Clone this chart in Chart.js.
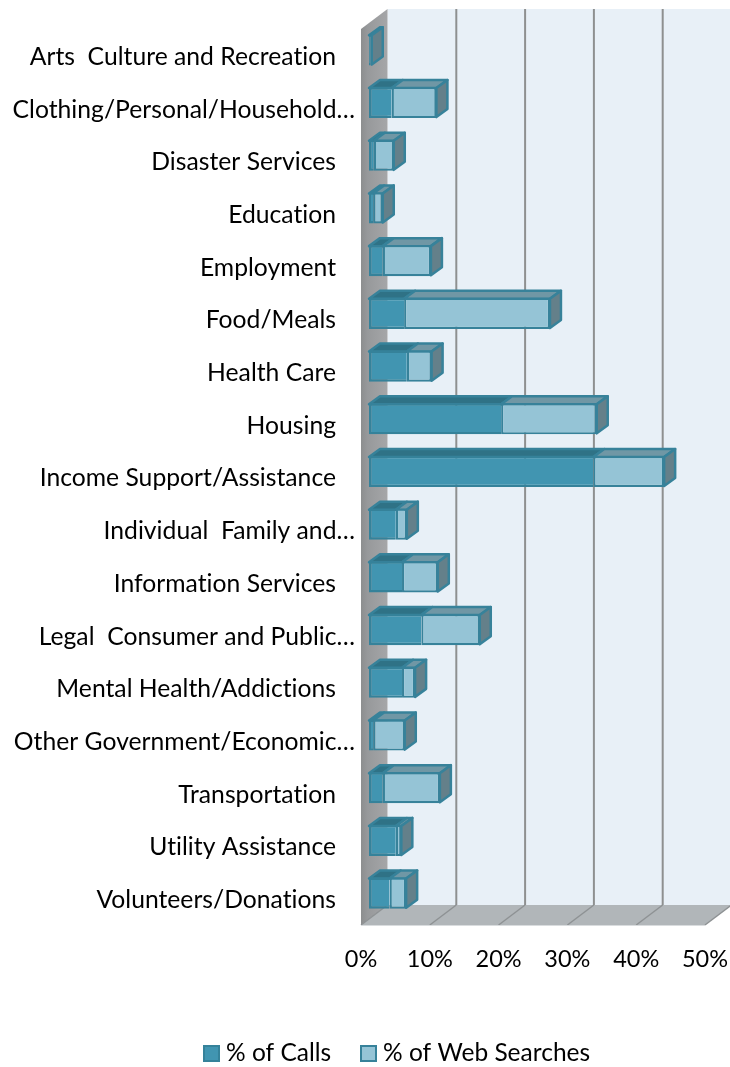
<!DOCTYPE html>
<html>
<head>
<meta charset="utf-8">
<style>html,body{margin:0;padding:0;background:#fff}canvas{display:block}</style>
<script src="https://cdn.jsdelivr.net/npm/chart.js@4"></script>
</head>
<body>
<canvas id="c" width="730" height="1067"></canvas>
<script>
const categories = ["Arts  Culture and Recreation","Clothing/Personal/Household…","Disaster Services","Education","Employment","Food/Meals","Health Care","Housing","Income Support/Assistance","Individual  Family and…","Information Services","Legal  Consumer and Public…","Mental Health/Addictions","Other Government/Economic…","Transportation","Utility Assistance","Volunteers/Donations"];
const callsValues = [0.2,3.3,0.7,0.6,2.0,5.1,5.5,19.2,32.6,3.9,4.8,7.6,4.8,0.6,2.0,3.9,3.0];
const webValues = [0.2,6.5,2.9,1.4,7.0,21.2,3.6,13.9,10.3,1.6,5.2,8.5,1.9,4.6,8.3,0.8,2.4];
const xTicks = [0,10,20,30,40,50];
const FONT = 'Lato';

const wall = {dx:26.5, dy:-20};
const barShift = {dx:8, dy:-5.5};
const depth = {dx:11, dy:-8};
const faces = [
  {top:'#2f7286', side:'#2f7286'},
  {top:'#7097a5', side:'#64808a'}
];
const edge = '#37829a';
const legendLayout = [{box:204,text:226},{box:361,text:383}];

function poly(ctx, pts, fill, stroke, lw){
  ctx.beginPath();
  pts.forEach((p,i)=> i?ctx.lineTo(p[0],p[1]):ctx.moveTo(p[0],p[1]));
  ctx.closePath();
  if(fill){ctx.fillStyle=fill;ctx.fill();}
  if(stroke){ctx.strokeStyle=stroke;ctx.lineWidth=lw||1;ctx.lineJoin='round';ctx.stroke();}
}

const box3d = {
  id:'box3d',
  beforeDraw(chart){ chart.ctx.letterSpacing='0.01px'; },
  beforeDatasetsDraw(chart){
    const {ctx, chartArea:a, scales:{x}} = chart;
    ctx.save();
    const l=a.left,r=a.right,t=a.top,b=a.bottom,dx=wall.dx,dy=wall.dy;
    poly(ctx,[[l+dx,t+dy],[730,t+dy],[730,b+dy],[l+dx,b+dy]],'#e8f0f7');
    const g=ctx.createLinearGradient(l,0,l+dx,0);
    g.addColorStop(0,'#8c8e8f');g.addColorStop(0.25,'#97999b');g.addColorStop(1,'#a5a6a8');
    poly(ctx,[[l,t],[l+dx,t+dy],[l+dx,b+dy],[l,b]],g);
    poly(ctx,[[l,b],[r,b],[r+dx,b+dy],[l+dx,b+dy]],'#b1b6b9');
    xTicks.forEach(v=>{
      const px=x.getPixelForValue(v);
      if(v>0 && v<50){
        ctx.strokeStyle='#8e9090';ctx.lineWidth=2;
        ctx.beginPath();ctx.moveTo(px+dx,t+dy);ctx.lineTo(px+dx,b+dy);ctx.stroke();
      }
      ctx.strokeStyle='#8e9294';ctx.lineWidth=1.5;
      ctx.beginPath();ctx.moveTo(px,b);ctx.lineTo(px+dx,b+dy);ctx.stroke();
    });
    ctx.strokeStyle='#d9dcde';ctx.lineWidth=1;
    ctx.beginPath();ctx.moveTo(l,b+0.5);ctx.lineTo(r,b+0.5);ctx.stroke();
    ctx.restore();

    ctx.save();
    ctx.translate(barShift.dx,barShift.dy);
    chart.data.datasets.forEach((ds,di)=>{
      chart.getDatasetMeta(di).data.forEach(bar=>{
        const p=bar.getProps(['x','y','base','height'],true);
        const tY=p.y-p.height/2+1, bY=p.y+p.height/2-1;
        const x0=p.base, x1=p.x;
        poly(ctx,[[x0,tY],[x0+depth.dx,tY+depth.dy],[x1+depth.dx,tY+depth.dy],[x1,tY]],faces[di].top,edge,2.5);
        if(di===1){
          poly(ctx,[[x1,tY],[x1+depth.dx,tY+depth.dy],[x1+depth.dx,bY+depth.dy],[x1,bY]],faces[di].side,edge,2.5);
        }
      });
    });
  },
  afterDatasetsDraw(chart){ chart.ctx.restore(); },
  afterDraw(chart){
    const ctx=chart.ctx;
    ctx.save();
    ctx.font='24.5px '+FONT;
    ctx.textBaseline='middle';
    ctx.textAlign='left';
    chart.data.datasets.forEach((ds,i)=>{
      const L=legendLayout[i];
      ctx.fillStyle=ds.backgroundColor;
      ctx.strokeStyle=ds.borderColor;
      ctx.lineWidth=2;
      ctx.fillRect(L.box,1046,15,15);
      ctx.strokeRect(L.box,1046,15,15);
      ctx.fillStyle='#000';
      ctx.fillText(ds.label,L.text,1053.5);
    });
    ctx.restore();
  }
};

new Chart(document.getElementById('c'),{
  type:'bar',
  data:{
    labels:categories,
    datasets:[
      {label:'% of Calls',data:callsValues,backgroundColor:'#4195b1',borderColor:'#35829a',borderWidth:2.4,borderSkipped:'end',clip:false},
      {label:'% of Web Searches',data:webValues,backgroundColor:'#95c4d6',borderColor:'#37829a',borderWidth:2.2,borderSkipped:false,clip:false}
    ]
  },
  options:{
    indexAxis:'y',
    responsive:false,
    animation:false,
    layout:{padding:{top:29,right:25,bottom:0,left:0}},
    datasets:{bar:{categoryPercentage:1,barPercentage:0.59}},
    scales:{
      x:{
        stacked:true,min:0,max:50,
        grid:{display:false,drawTicks:false},
        border:{display:false},
        afterBuildTicks(s){s.ticks=xTicks.map(v=>({value:v}));},
        afterFit(s){s.height=142;s.paddingLeft=0;s.paddingRight=0;},
        ticks:{padding:20,maxRotation:0,color:'#000',font:{family:FONT,size:23.5},callback:v=>v+'%'}
      },
      y:{
        stacked:true,
        grid:{display:false,drawTicks:false},
        border:{display:false},
        afterFit(s){s.width=361;},
        ticks:{padding:6,labelOffset:1.5,autoSkip:false,color:'#000',font:{family:FONT,size:24.7},
          callback(v){const t=this.getLabelForValue(v);return t.endsWith('…')?t:t+'\u00a0\u00a0\u00a0';}}
      }
    },
    plugins:{tooltip:{enabled:false},legend:{display:false}}
  },
  plugins:[box3d]
});
</script>
</body>
</html>
